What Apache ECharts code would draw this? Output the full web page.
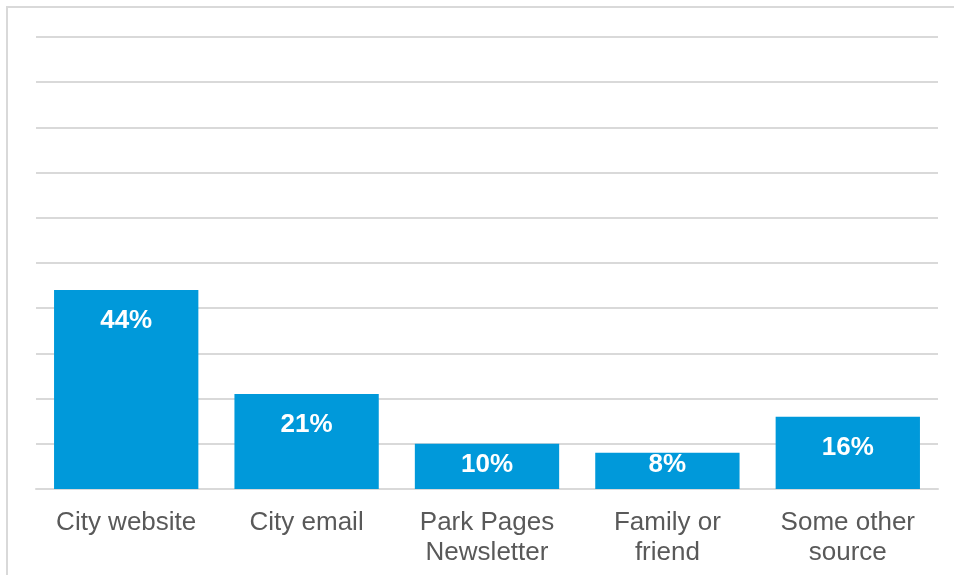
<!DOCTYPE html>
<html>
<head>
<meta charset="utf-8">
<script src="https://cdn.jsdelivr.net/npm/echarts@6/dist/echarts.min.js"></script>
<style>
  html, body { margin: 0; background: #fff; }
  #chart { width: 954px; height: 575px; }
</style>
</head>
<body>
<div id="chart"></div>
<script>
// 数据
var categories = ['City website', 'City email', 'Park Pages\nNewsletter', 'Family or\nfriend', 'Some other\nsource'];
var values = [44, 21, 10, 8, 16];

var myChart = echarts.init(document.getElementById('chart'));

// 小柱子的标签放在底部附近
var barData = values.map(function (v) {
  return {
    value: v,
    label: v >= 12
      ? { position: 'insideTop', distance: 18 }
      : { position: 'insideBottom', distance: 11 }
  };
});

myChart.setOption({
  animation: false,
  graphic: [{
    type: 'rect',
    shape: { x: 7, y: 7, width: 980, height: 620 },
    style: { fill: 'none', stroke: '#d9d9d9', lineWidth: 2 },
    silent: true
  }],
  grid: { left: 36, right: 16, top: 37, bottom: 86 },
  xAxis: {
    type: 'category',
    data: categories,
    axisLine: { lineStyle: { color: '#d9d9d9', width: 2 } },
    axisTick: { show: false },
    axisLabel: {
      color: '#595959',
      fontFamily: 'Liberation Sans, Arial, sans-serif',
      fontSize: 26,
      lineHeight: 30,
      margin: 19,
      interval: 0
    }
  },
  yAxis: {
    type: 'value',
    min: 0,
    max: 100,
    interval: 10,
    axisLabel: { show: false },
    axisLine: { show: false },
    axisTick: { show: false },
    splitLine: { lineStyle: { color: '#d9d9d9', width: 2 } }
  },
  series: [{
    type: 'bar',
    data: barData,
    barCategoryGap: '20%',
    itemStyle: { color: '#0099da' },
    label: {
      show: true,
      formatter: '{c}%',
      color: '#fff',
      fontWeight: 'bold',
      fontSize: 26,
      fontFamily: 'Liberation Sans, Arial, sans-serif'
    }
  }]
});
</script>
</body>
</html>
